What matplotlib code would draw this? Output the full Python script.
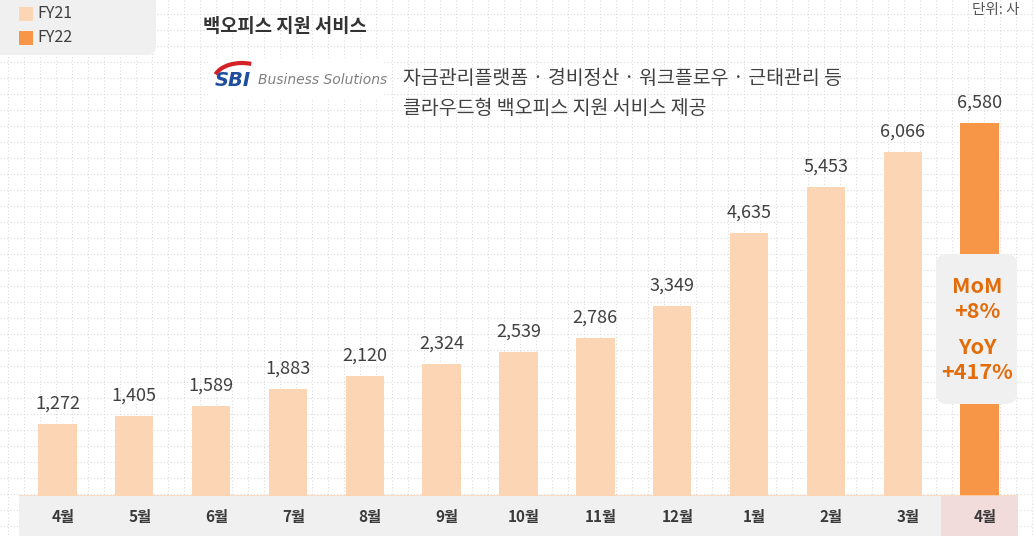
import numpy as np
import matplotlib
matplotlib.use("Agg")
import matplotlib.pyplot as plt
from matplotlib.patches import FancyBboxPatch, Rectangle, Arc

plt.rcParams['font.family'] = ['Noto Sans CJK KR', 'DejaVu Sans']

#  Data
months = ["4월", "5월", "6월", "7월", "8월", "9월", "10월", "11월", "12월",
          "1월", "2월", "3월", "4월"]
fy21_values = [1272, 1405, 1589, 1883, 2120, 2324, 2539, 2786, 3349,
               4635, 5453, 6066]
fy22_values = [6580]
series_names = ["FY21", "FY22"]
title = "백오피스 지원 서비스"
unit = "단위: 사"
desc_lines = ["자금관리플랫폼 · 경비정산 · 워크플로우 · 근태관리 등",
              "클라우드형 백오피스 지원 서비스 제공"]
callout = [("MoM", "+8%"), ("YoY", "+417%")]

C21 = "#fcd5b4"
C22 = "#f79646"
TXT = "#404040"
ORANGE_TXT = "#e36c0a"

W, H = 1034, 536
fig = plt.figure(figsize=(W / 100, H / 100), dpi=100)
fig.patch.set_facecolor("white")

#  Background layer in pixel coords
bg = fig.add_axes([0, 0, 1, 1])
bg.set_xlim(0, W)
bg.set_ylim(H, 0)
bg.axis("off")
for gx in np.arange(8.3, W, 16):
    bg.plot([gx, gx], [0, H], color="#dcdcdc", lw=0.8, ls=(0, (1, 2)), zorder=0)
for gy in np.arange(13.7, H, 16):
    bg.plot([0, W], [gy, gy], color="#dcdcdc", lw=0.8, ls=(0, (1, 2)), zorder=0)

# legend box
bg.add_patch(FancyBboxPatch((-10, -10), 166, 65, boxstyle="round,pad=0,rounding_size=9",
                            fc="#f0f0f0", ec="none", zorder=2))
for i, (name, col) in enumerate(zip(series_names, [C21, C22])):
    y = 14 + i * 24
    bg.add_patch(Rectangle((19, y - 7), 14, 14, fc=col, ec="none", zorder=3))
    bg.text(37, y, name, fontsize=11.5, color=TXT, va="center", ha="left", zorder=3)

bg.text(203, 26, title, fontsize=13.5, fontweight="bold", color="#333333",
        va="center", ha="left", zorder=3)
bg.text(1020, 10, unit, fontsize=10.5, color="#555555", va="center", ha="right", zorder=3)

# SBI logo
bg.add_patch(Rectangle((208, 58), 176, 40, fc="white", ec="none", zorder=2))
bg.add_patch(Arc((242, 80), 56, 34, theta1=192, theta2=300, color="#d42027", lw=3, zorder=3))
bg.text(215, 80, "SBI", fontsize=14, fontweight="bold", style="italic",
        color="#1f4e9c", family="DejaVu Sans", va="center", ha="left", zorder=4)
bg.text(258, 80, "Business Solutions", fontsize=10, style="italic",
        color="#808080", family="DejaVu Sans", va="center", ha="left", zorder=4)

for i, line in enumerate(desc_lines):
    bg.text(403, 78 + i * 30, line, fontsize=14, color=TXT, va="center", ha="left", zorder=3)

#  Bar chart
ax = fig.add_axes([19 / W, 40 / H, 999 / W, 496 / H])
ax.patch.set_alpha(0)
x = np.arange(len(months))
ax.set_xlim(-0.5, len(months) - 0.5)
ax.set_ylim(0, 8749)
ax.axis("off")

ax.bar(x[:len(fy21_values)], fy21_values, width=0.5, color=C21, zorder=3)
ax.bar(x[len(fy21_values):], fy22_values, width=0.5, color=C22, zorder=3)
for xi, v in zip(x, fy21_values + fy22_values):
    ax.text(xi, v + 360, f"{v:,}", fontsize=13, color=TXT, ha="center",
            va="center", zorder=4)
ax.axhline(0, color=C21, lw=1.2, zorder=4)

#  Callout overlay (pixel coords, on top of bars)
top = fig.add_axes([0, 0, 1, 1])
top.patch.set_alpha(0)
top.set_xlim(0, W)
top.set_ylim(H, 0)
top.axis("off")
top.add_patch(FancyBboxPatch((936, 254), 81, 150, boxstyle="round,pad=0,rounding_size=11",
                             fc="#f0f0f0", ec="none", zorder=5))
for i, (k, v) in enumerate(callout):
    top.text(977, 299 + i * 61, f"{k}\n{v}", fontsize=15.5, fontweight="bold",
             color=ORANGE_TXT, ha="center", va="center", linespacing=1.2, zorder=6)

#  Category band below
lab = fig.add_axes([19 / W, 0, 999 / W, 40 / H])
lab.set_xlim(-0.5, len(months) - 0.5)
lab.set_ylim(0, 1)
lab.axis("off")
band_colors = ["#f0f0f0"] * (len(months) - 1) + ["#f2dcdb"]
lab.bar(x, 1, width=1.0, bottom=0, color=band_colors, align="center")
for xi, m in zip(x, months):
    lab.text(xi + 0.07, 0.48, m, fontsize=11, color="#3a3a3a", fontweight="bold",
             ha="center", va="center")

fig.savefig("out.png", dpi=100)
